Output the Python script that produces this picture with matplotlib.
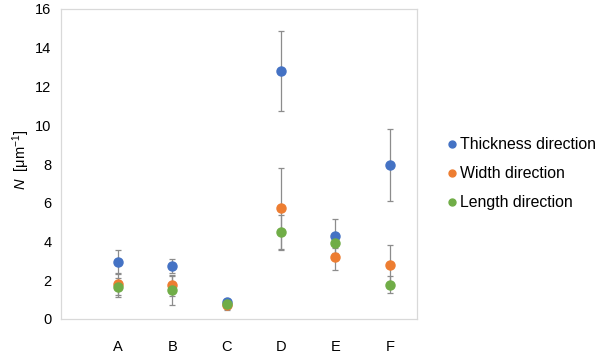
import matplotlib.pyplot as plt

plt.rcParams['font.family'] = ['Liberation Sans', 'DejaVu Sans']
plt.rcParams['mathtext.fontset'] = 'custom'
plt.rcParams['mathtext.it'] = 'Liberation Sans:italic'
plt.rcParams['mathtext.rm'] = 'Liberation Sans'

# samples and measured densities along each direction
samples = ['A', 'B', 'C', 'D', 'E', 'F']
thickness = [2.94, 2.74, 0.86, 12.8, 4.27, 7.97]
thickness_err = [0.60, 0.36, 0.10, 2.07, 0.88, 1.86]
width = [1.79, 1.74, 0.70, 5.71, 3.20, 2.77]
width_err = [0.56, 0.55, 0.15, 2.10, 0.67, 1.03]
length = [1.63, 1.48, 0.75, 4.48, 3.94, 1.77]
length_err = [0.48, 0.76, 0.30, 0.90, 0.30, 0.44]

series = [
    ('Thickness direction', thickness, thickness_err, '#4472C4'),
    ('Width direction', width, width_err, '#ED7D31'),
    ('Length direction', length, length_err, '#70AD47'),
]

fig = plt.figure(figsize=(6, 3.58), dpi=100)
ax = fig.add_axes([61 / 600, 39 / 358, 356 / 600, 310 / 358])

xs = list(range(1, len(samples) + 1))
for name, vals, errs, col in series:
    ax.errorbar(xs, vals, yerr=errs, fmt='o', color=col, ms=6.5,
                ecolor='#8c8c8c', elinewidth=0.9, capsize=2.5, capthick=0.9,
                label=name, zorder=3)

ax.set_xlim(-0.05, 6.5)
ax.set_ylim(0, 16)
ax.set_yticks(range(0, 17, 2))
ax.set_xticks(xs)
ax.set_xticklabels(samples)
ax.tick_params(axis='both', length=0, labelsize=10.5, colors='#000000')
ax.tick_params(axis='x', pad=15)
ax.tick_params(axis='y', pad=7)
for s in ax.spines.values():
    s.set_color('#d9d9d9')
    s.set_linewidth(0.9)

fig.text(0.035, 0.553, r'$N$  [μm$^{-1}$]', rotation=90, fontsize=10.5,
         ha='center', va='center')

handles = [plt.Line2D([], [], ls='', marker='o', ms=5, color=c)
           for _, _, _, c in series]
fig.legend(handles, [s[0] for s in series], loc='center left',
           bbox_to_anchor=(0.716, 0.515), frameon=False, fontsize=11.4,
           handletextpad=0.05, labelspacing=0.88, handlelength=1.0)

fig.savefig('out.png', dpi=100)
